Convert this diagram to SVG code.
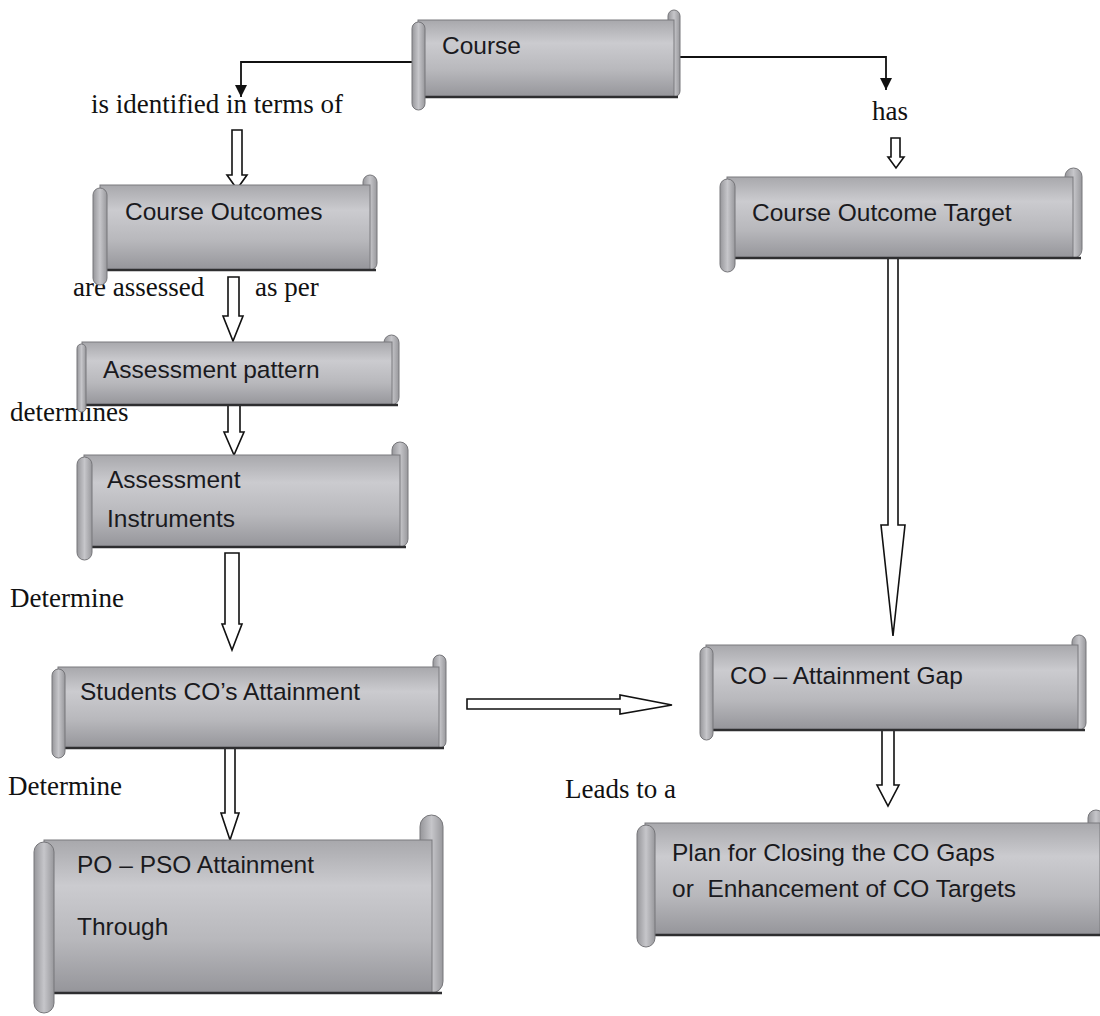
<svg xmlns="http://www.w3.org/2000/svg" width="1100" height="1016" viewBox="0 0 1100 1016">
<style>
.body{fill:url(#g);stroke:#7a7a7e;stroke-width:1}
.edge{stroke:#2e2e30;stroke-width:2.5;fill:none}
.roll{fill:url(#gr);stroke:#76767a;stroke-width:1}
.nt{font-family:"Liberation Sans",Arial,sans-serif;font-size:24.5px;fill:#1a1a1e}
.lb{font-family:"Liberation Serif","Times New Roman",serif;font-size:27px;fill:#111}
.blk{fill:#fff;stroke:#111;stroke-width:1.6;stroke-linejoin:miter}
.ln{fill:none;stroke:#111;stroke-width:1.8}
</style>
<defs>
<linearGradient id="g" x1="0" y1="0" x2="0" y2="1">
<stop offset="0" stop-color="#a8a8ac"/>
<stop offset="0.3" stop-color="#cbcbcf"/>
<stop offset="0.65" stop-color="#b8b8bc"/>
<stop offset="1" stop-color="#95959a"/>
</linearGradient>
<linearGradient id="gr" x1="0" y1="0" x2="1" y2="0">
<stop offset="0" stop-color="#96969a"/>
<stop offset="0.5" stop-color="#c6c6ca"/>
<stop offset="1" stop-color="#98989c"/>
</linearGradient>
<marker id="ah" markerUnits="userSpaceOnUse" markerWidth="14" markerHeight="14" refX="12" refY="6" orient="auto">
<path d="M0,0 L12,6 L0,12 Z" fill="#111"/>
</marker>
</defs>
<rect width="1100" height="1016" fill="#fff"/>

<g id="connectors">
<polyline class="ln" points="412,62 241,62 241,97" marker-end="url(#ah)"/>
<polyline class="ln" points="680,57 886,57 886,90" marker-end="url(#ah)"/>
<path class="blk" d="M232,130 H242 V175 H247 L237,189 L227,175 H232 Z"/>
<path class="blk" d="M228,277 H239 V316 H243 L233,341 L223,316 H228 Z"/>
<path class="blk" d="M228,396 H240 V432 H244 L234,455 L224,432 H228 Z"/>
<path class="blk" d="M225,553 H239 V624 H242 L232,650 L222,624 H225 Z"/>
<path class="blk" d="M225,740 H235 V813 H239 L230,840 L221,813 H225 Z"/>
<path class="blk" d="M891,138 H900 V157 H904 L896,168 L888,157 H891 Z"/>
<path class="blk" d="M888,237 H898 V525 H905 L893,636 L881,525 H888 Z"/>
<path class="blk" d="M882,730 H894 V785 H899 L888,806 L877,785 H882 Z"/>
<path class="blk" d="M467,699 H620 V695 L672,705 L620,714 V709 H467 Z"/>
</g>

<g id="labels">
<text class="lb" x="91" y="113">is identified in terms of</text>
<text class="lb" x="872" y="120">has</text>
<text class="lb" x="73" y="296">are assessed</text>
<text class="lb" x="255" y="296">as per</text>
<text class="lb" x="10" y="421">determines</text>
<text class="lb" x="10" y="607">Determine</text>
<text class="lb" x="8" y="795">Determine</text>
<text class="lb" x="565" y="798">Leads to a</text>
</g>

<g id="n-course">
<rect class="roll" x="668" y="10" width="12" height="87" rx="6"/>
<rect class="body" x="418" y="20" width="256" height="77"/>
<line class="edge" x1="420" y1="97" x2="678" y2="97"/>
<rect class="roll" x="412" y="22" width="13" height="88" rx="6.5"/>
<text class="nt" x="442" y="54">Course</text>
</g>

<g id="n-co">
<rect class="roll" x="363" y="175" width="14" height="95" rx="7"/>
<rect class="body" x="100" y="185" width="270" height="85"/>
<line class="edge" x1="102" y1="270" x2="376" y2="270"/>
<rect class="roll" x="93" y="188" width="14" height="97" rx="7"/>
<text class="nt" x="125" y="220">Course Outcomes</text>
</g>

<g id="n-pattern">
<rect class="roll" x="384" y="335" width="15" height="70" rx="7.5"/>
<rect class="body" x="82" y="342" width="310" height="63"/>
<line class="edge" x1="84" y1="405" x2="398" y2="405"/>
<rect class="roll" x="77" y="344" width="9" height="68" rx="4.5"/>
<text class="nt" x="103" y="378">Assessment pattern</text>
</g>

<g id="n-instruments">
<rect class="roll" x="392" y="442" width="16" height="105" rx="8"/>
<rect class="body" x="84" y="455" width="316" height="92"/>
<line class="edge" x1="86" y1="547" x2="406" y2="547"/>
<rect class="roll" x="77" y="457" width="15" height="103" rx="7.5"/>
<text class="nt" x="107" y="488">Assessment</text>
<text class="nt" x="107" y="527">Instruments</text>
</g>

<g id="n-students">
<rect class="roll" x="433" y="655" width="13" height="93" rx="6.5"/>
<rect class="body" x="58" y="667" width="381" height="81"/>
<line class="edge" x1="60" y1="748" x2="444" y2="748"/>
<rect class="roll" x="52" y="669" width="13" height="89" rx="6.5"/>
<text class="nt" x="80" y="700">Students CO’s Attainment</text>
</g>

<g id="n-popso">
<rect class="roll" x="420" y="815" width="23" height="178" rx="11.5"/>
<rect class="body" x="44" y="840" width="388" height="153"/>
<line class="edge" x1="48" y1="993" x2="442" y2="993"/>
<rect class="roll" x="34" y="842" width="20" height="171" rx="10"/>
<text class="nt" x="77" y="873">PO – PSO Attainment</text>
<text class="nt" x="77" y="935">Through</text>
</g>

<g id="n-target">
<rect class="roll" x="1065" y="168" width="17" height="90" rx="8.5"/>
<rect class="body" x="727" y="177" width="346" height="81"/>
<line class="edge" x1="729" y1="258" x2="1081" y2="258"/>
<rect class="roll" x="720" y="179" width="15" height="93" rx="7.5"/>
<text class="nt" x="752" y="221">Course Outcome Target</text>
</g>

<g id="n-gap">
<rect class="roll" x="1072" y="635" width="14" height="95" rx="7"/>
<rect class="body" x="706" y="645" width="372" height="85"/>
<line class="edge" x1="708" y1="730" x2="1085" y2="730"/>
<rect class="roll" x="700" y="647" width="13" height="93" rx="6.5"/>
<text class="nt" x="730" y="684">CO – Attainment Gap</text>
</g>

<g id="n-plan">
<rect class="roll" x="1088" y="810" width="16" height="125" rx="8"/>
<rect class="body" x="645" y="823" width="455" height="112"/>
<line class="edge" x1="648" y1="935" x2="1100" y2="935"/>
<rect class="roll" x="637" y="825" width="18" height="122" rx="9"/>
<text class="nt" x="672" y="861">Plan for Closing the CO Gaps</text>
<text class="nt" x="672" y="897">or&#160; Enhancement of CO Targets</text>
</g>
</svg>
